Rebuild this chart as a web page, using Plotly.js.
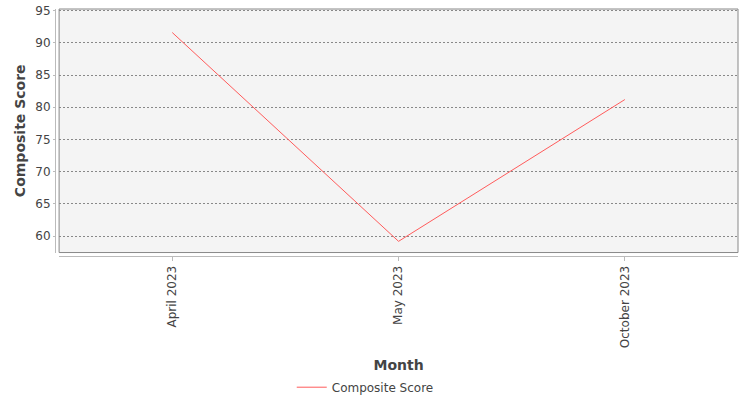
<!DOCTYPE html>
<html>
<head>
<meta charset="utf-8">
<script src="https://cdn.plot.ly/plotly-3.0.1.min.js"></script>
<style>
  body { margin: 0; background: #fff; }
  #chart { width: 750px; height: 400px; }
</style>
</head>
<body>
<div id="chart"></div>
<script>
const months = ['April 2023', 'May 2023', 'October 2023'];
const compositeScore = [91.6, 59.2, 81.2];

const font = 'DejaVu Sans, sans-serif';

const data = [{
    x: months,
    y: compositeScore,
    type: 'scatter',
    mode: 'lines',
    name: 'Composite Score',
    line: { color: '#ff5b5b', width: 1 }
}];

const layout = {
    width: 750,
    height: 400,
    margin: { l: 55, r: 12, t: 9, b: 144 },
    paper_bgcolor: '#ffffff',
    plot_bgcolor: '#f4f4f4',
    font: { family: font, size: 12, color: '#444' },
    showlegend: true,
    legend: {
        orientation: 'h',
        xref: 'container', yref: 'container',
        x: 0.487, xanchor: 'center',
        y: 0.032, yanchor: 'middle',
        font: { family: font, size: 12, color: '#444' }
    },
    xaxis: {
        domain: [0.006, 1],
        anchor: 'free',
        position: 0,
        range: [-0.5, 2.5],
        tickangle: -90,
        showline: true,
        linecolor: '#bbbbbb',
        linewidth: 1,
        ticks: 'outside',
        ticklen: 4,
        tickcolor: '#bbbbbb',
        showgrid: false,
        zeroline: false,
        tickfont: { family: font, size: 12, color: '#444' },
        title: { text: 'Month', font: { family: font, size: 14, color: '#444', weight: 'bold' }, standoff: 15 }
    },
    yaxis: {
        domain: [0.014, 1],
        anchor: 'free',
        position: 0,
        range: [57.46, 95.25],
        tickvals: [60, 65, 70, 75, 80, 85, 90, 95],
        showline: true,
        linecolor: '#bbbbbb',
        linewidth: 1,
        ticks: 'outside',
        ticklen: 2,
        tickcolor: '#bbbbbb',
        showgrid: true,
        gridcolor: '#888888',
        griddash: '2px,2px',
        gridwidth: 1,
        zeroline: false,
        tickfont: { family: font, size: 12, color: '#444' },
        title: { text: 'Composite Score', font: { family: font, size: 14, color: '#444', weight: 'bold' }, standoff: 5 }
    },
    shapes: [{
        type: 'rect', xref: 'paper', yref: 'paper',
        x0: 0.006, x1: 1, y0: 0.014, y1: 1,
        line: { color: '#888888', width: 1 }
    }]
};

Plotly.newPlot('chart', data, layout, { displayModeBar: false });
</script>
</body>
</html>
